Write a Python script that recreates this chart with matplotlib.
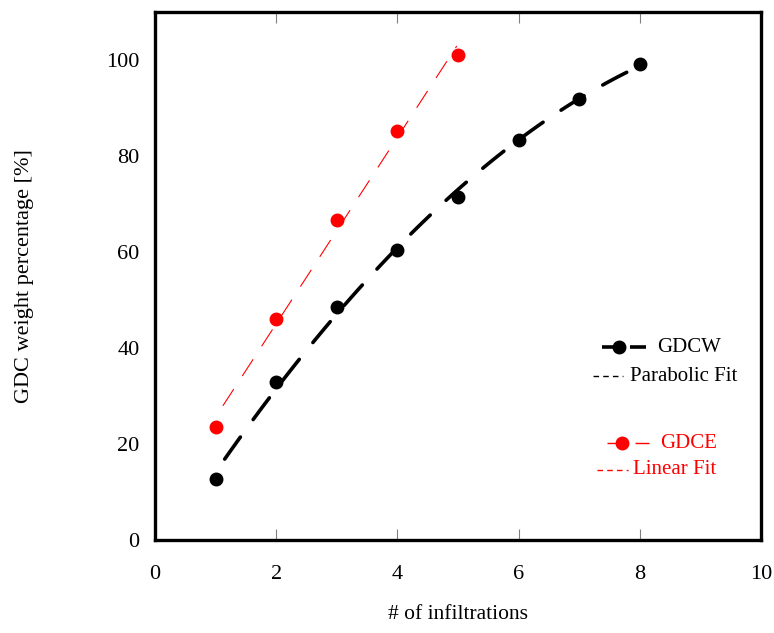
import matplotlib
matplotlib.use('Agg')
import matplotlib.pyplot as plt
import numpy as np

plt.rcParams['font.family'] = ['Liberation Serif', 'DejaVu Serif']

# data
infil_w = [1, 2, 3, 4, 5, 6, 7, 8]
gdcw = [12.7, 33.0, 48.6, 60.4, 71.5, 83.4, 91.9, 99.2]
infil_e = [1, 2, 3, 4, 5]
gdce = [23.5, 46.0, 66.6, 85.2, 101.0]

# fits
pw = np.polyfit(infil_w, gdcw, 2)
pe = np.polyfit(infil_e, gdce, 1)
xw = np.linspace(1.15, 8, 100)
xe = np.linspace(1.12, 4.98, 100)

fig = plt.figure(figsize=(7.74, 6.33), dpi=100)
ax = fig.add_axes([155/774, 1-540/633, (761-155)/774, (540-12)/633])

ax.plot(xw, np.polyval(pw, xw), color='black', lw=2.6, dashes=(7.5, 6), dash_capstyle='round')
ax.plot(infil_w, gdcw, 'o', color='black', ms=9)
ax.plot(xe, np.polyval(pe, xe), color='red', lw=0.8, dashes=(18, 14))
ax.plot(infil_e, gdce, 'o', color='red', ms=9)

ax.set_xlim(0, 10)
ax.set_ylim(0, 110)
ax.set_xticks([0, 2, 4, 6, 8, 10])
ax.set_yticks([0, 20, 40, 60, 80, 100])
ax.tick_params(axis='x', direction='in', length=8, width=0.8, color='gray',
               top=True, labelsize=16, pad=18)
ax.tick_params(axis='y', length=0, labelsize=16, pad=11)
for s in ax.spines.values():
    s.set_linewidth(2.4)

ax.set_xlabel('# of infiltrations', fontsize=15.5, labelpad=15)
ax.set_ylabel('GDC weight percentage [%]', fontsize=16, labelpad=52)

# legend, drawn gnuplot style (key entries placed by hand in axes coords)
tr = ax.transAxes
kw = dict(transform=tr, clip_on=False)
# GDCW
ax.plot([0.7376, 0.7739], [0.3655, 0.3655], color='black', lw=2.6, solid_capstyle='butt', **kw)
ax.plot([0.7838, 0.8102], [0.3655, 0.3655], color='black', lw=2.6, solid_capstyle='butt', **kw)
ax.plot([0.7657], [0.3655], 'o', color='black', ms=9, **kw)
ax.text(0.8284, 0.3655, 'GDCW', transform=tr, fontsize=15, va='center', ha='left')
# Parabolic Fit
ax.plot([0.7228, 0.7723], [0.3106, 0.3106], color='black', lw=1, dashes=(4, 3), **kw)
ax.text(0.7838, 0.3106, 'Parabolic Fit', transform=tr, fontsize=15, va='center', ha='left')
# GDCE
ax.plot([0.7459, 0.7624], [0.1837, 0.1837], color='red', lw=1, solid_capstyle='butt', **kw)
ax.plot([0.7921, 0.8152], [0.1837, 0.1837], color='red', lw=1, solid_capstyle='butt', **kw)
ax.plot([0.7706], [0.1837], 'o', color='red', ms=9, **kw)
ax.text(0.8333, 0.1837, 'GDCE', transform=tr, fontsize=15, va='center', ha='left', color='red')
# Linear Fit
ax.plot([0.7294, 0.7805], [0.1326, 0.1326], color='red', lw=1, dashes=(4, 3), **kw)
ax.text(0.7888, 0.1326, 'Linear Fit', transform=tr, fontsize=15, va='center', ha='left', color='red')

fig.savefig('out.png', dpi=100)
